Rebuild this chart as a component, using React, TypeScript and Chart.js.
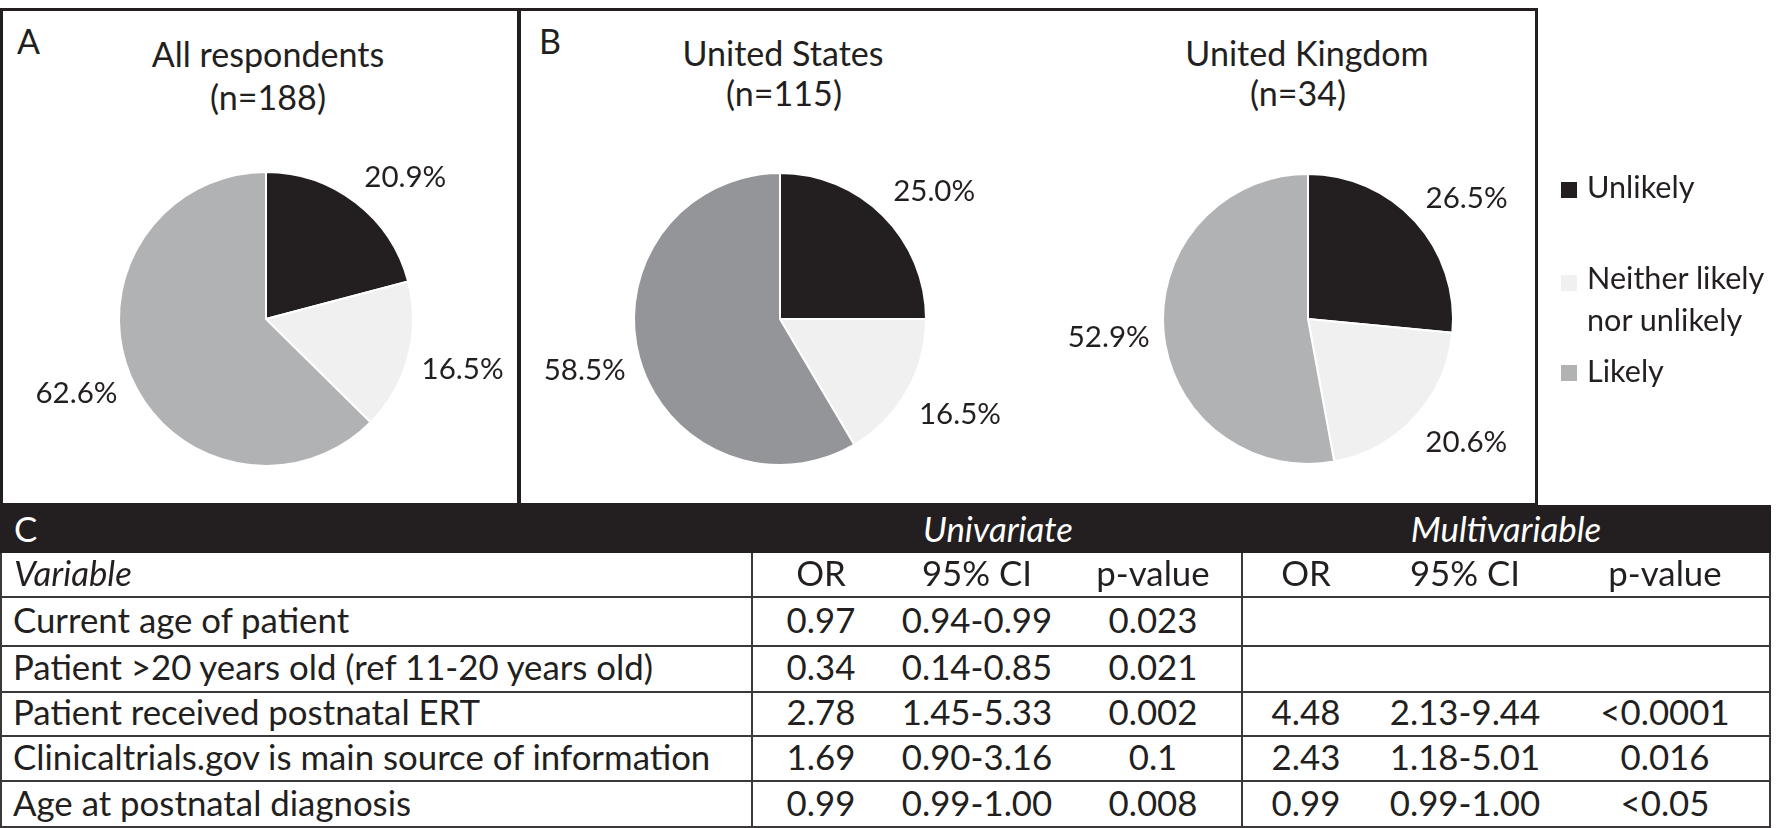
import React, { useEffect, useRef } from "react";
import { Chart, registerables } from "chart.js";

Chart.register(...registerables);

// ---------------- data ----------------
const responseCategories = ["Unlikely", "Neither likely nor unlikely", "Likely"];
const allRespondentsPct = [20.9, 16.5, 62.6];
const unitedStatesPct = [25.0, 16.5, 58.5];
const unitedKingdomPct = [26.5, 20.6, 52.9];

const tableVariables = [
  "Current age of patient",
  "Patient >20 years old (ref 11-20 years old)",
  "Patient received postnatal ERT",
  "Clinicaltrials.gov is main source of information",
  "Age at postnatal diagnosis",
];
const uniOR = ["0.97", "0.34", "2.78", "1.69", "0.99"];
const uniCI = ["0.94-0.99", "0.14-0.85", "1.45-5.33", "0.90-3.16", "0.99-1.00"];
const uniP = ["0.023", "0.021", "0.002", "0.1", "0.008"];
const multiOR = ["", "", "4.48", "2.43", "0.99"];
const multiCI = ["", "", "2.13-9.44", "1.18-5.01", "0.99-1.00"];
const multiP = ["", "", "<0.0001", "0.016", "<0.05"];
const columnHeaders = ["OR", "95% CI", "p-value", "OR", "95% CI", "p-value"];

// ---------------- styles ----------------
const FONT = "Lato, 'Open Sans', sans-serif";
const INK = "#231f20";
const COLORS_DEFAULT = ["#231f20", "#f0f0f0", "#b1b2b4"];
const COLORS_US = ["#231f20", "#f0f0f0", "#939598"];

function fit(text: string, target: number, style = ""): number {
  const c = document.createElement("canvas").getContext("2d")!;
  c.font = `${style} 100px Lato`;
  return (100 * target) / c.measureText(text).width;
}

const TITLE_SIZE = (fit("All respondents", 237) + fit("United Kingdom", 240) + fit("United States", 200)) / 3;
const LABEL_SIZE = fit("20.9%", 82);
const LEGEND_SIZE = fit("Neither likely", 178);
const TABLE_SIZE = fit("Clinicaltrials.gov is main source of information", 699);

// text placed by its alphabetic baseline
function Txt(props: {
  x: number;
  y: number;
  size: number;
  align?: "left" | "center";
  italic?: boolean;
  color?: string;
  children: React.ReactNode;
}) {
  const { x, y, size, align = "left", italic, color = INK, children } = props;
  const lh = size * 1.2;
  return (
    <div
      style={{
        position: "absolute",
        left: x,
        top: y - 0.987 * size,
        fontFamily: FONT,
        fontSize: size,
        lineHeight: `${lh}px`,
        fontStyle: italic ? "italic" : "normal",
        color,
        whiteSpace: "nowrap",
        transform: align === "center" ? "translateX(-50%)" : undefined,
      }}
    >
      {children}
    </div>
  );
}

const clamp = (v: number) => Math.max(-1, Math.min(1, v));

// "outside end" percentage labels: the label box sits just outside the arc at the slice's mid-angle
const pctLabels = {
  id: "pctLabels",
  afterDatasetsDraw(chart: any) {
    const ctx = chart.ctx as CanvasRenderingContext2D;
    const meta = chart.getDatasetMeta(0);
    const data = chart.data.datasets[0].data as number[];
    ctx.save();
    ctx.font = `${LABEL_SIZE}px ${FONT}`;
    ctx.fillStyle = INK;
    ctx.textAlign = "center";
    ctx.textBaseline = "middle";
    meta.data.forEach((arc: any, i: number) => {
      const p = arc.getProps(["x", "y", "startAngle", "endAngle", "outerRadius"], true);
      const mid = (p.startAngle + p.endAngle) / 2;
      const d = p.outerRadius + 14;
      const text = data[i].toFixed(1) + "%";
      const w = ctx.measureText(text).width;
      const h = 30;
      const cx = p.x + Math.cos(mid) * d + (w / 2) * clamp(Math.cos(mid) * 2);
      const cy = p.y + Math.sin(mid) * d + (h / 2) * clamp(Math.sin(mid) * 2);
      ctx.fillText(text, cx, cy + 1);
    });
    ctx.restore();
  },
};

function Pie(props: { values: number[]; colors: string[]; cx: number; cy: number; r: number }) {
  const { values, colors, cx, cy, r } = props;
  const W = 540;
  const H = 470;
  const ref = useRef<HTMLCanvasElement>(null);
  useEffect(() => {
    const half = r + 1;
    const px = W / 2;
    const py = H / 2;
    const chart = new Chart(ref.current!, {
      type: "pie",
      data: {
        labels: responseCategories,
        datasets: [
          {
            data: values,
            backgroundColor: colors,
            borderColor: "#ffffff",
            borderWidth: 2,
            hoverOffset: 0,
          },
        ],
      },
      options: {
        animation: false,
        responsive: false,
        events: [],
        layout: { padding: { left: px - half, right: W - px - half, top: py - half, bottom: H - py - half } },
        plugins: { legend: { display: false }, tooltip: { enabled: false } },
      },
      plugins: [pctLabels],
    } as any);
    return () => chart.destroy();
  }, []);
  return (
    <canvas
      ref={ref}
      width={W}
      height={H}
      style={{ position: "absolute", left: cx - W / 2, top: cy - H / 2, width: W, height: H }}
    />
  );
}

function HLine(props: { x1: number; x2: number; y: number; w?: number; color?: string }) {
  const { x1, x2, y, w = 2, color = "#3a3839" } = props;
  return <div style={{ position: "absolute", left: x1, top: y - w / 2, width: x2 - x1, height: w, background: color }} />;
}
function VLine(props: { x: number; y1: number; y2: number; w?: number; color?: string }) {
  const { x, y1, y2, w = 2, color = "#3a3839" } = props;
  return <div style={{ position: "absolute", left: x - w / 2, top: y1, width: w, height: y2 - y1, background: color }} />;
}

export default function App() {
  // table geometry
  const rowEdges = [553, 597, 646, 692, 736, 781, 828];
  const colCenters = [821, 977, 1153, 1306, 1465, 1665];
  const rowBase = (i: number) => (rowEdges[i] + rowEdges[i + 1]) / 2 - 1 + 0.358 * TABLE_SIZE;
  const dataCols = [uniOR, uniCI, uniP, multiOR, multiCI, multiP];

  const legendItems = [
    { color: COLORS_DEFAULT[0], sq: 190, lines: [[responseCategories[0], 199]] },
    { color: COLORS_DEFAULT[1], sq: 283, lines: [["Neither likely", 290], ["nor unlikely", 332]] },
    { color: COLORS_DEFAULT[2], sq: 373, lines: [[responseCategories[2], 383]] },
  ];

  return (
    <div style={{ position: "absolute", left: 0, top: 0, width: 1776, height: 828, background: "#fff", overflow: "hidden" }}>
      {/* panel boxes */}
      <div style={{ position: "absolute", left: 0, top: 8, width: 521, height: 498, border: `3px solid ${INK}`, boxSizing: "border-box" }} />
      <div style={{ position: "absolute", left: 517, top: 8, width: 1021, height: 498, border: `3px solid ${INK}`, boxSizing: "border-box" }} />

      <Txt x={17} y={55} size={TITLE_SIZE}>A</Txt>
      <Txt x={539} y={55} size={TITLE_SIZE}>B</Txt>

      <Txt x={268} y={68} size={TITLE_SIZE} align="center">All respondents</Txt>
      <Txt x={268} y={111} size={TITLE_SIZE} align="center">(n=188)</Txt>
      <Txt x={783} y={67} size={TITLE_SIZE} align="center">United States</Txt>
      <Txt x={784} y={107} size={TITLE_SIZE} align="center">(n=115)</Txt>
      <Txt x={1307} y={67} size={TITLE_SIZE} align="center">United Kingdom</Txt>
      <Txt x={1298} y={107} size={TITLE_SIZE} align="center">(n=34)</Txt>

      <Pie values={allRespondentsPct} colors={COLORS_DEFAULT} cx={266} cy={319} r={147} />
      <Pie values={unitedStatesPct} colors={COLORS_US} cx={780} cy={319} r={146} />
      <Pie values={unitedKingdomPct} colors={COLORS_DEFAULT} cx={1308} cy={319} r={145} />

      {/* legend */}
      {legendItems.map((it, i) => (
        <React.Fragment key={i}>
          <div style={{ position: "absolute", left: 1561, top: it.sq - 8, width: 16, height: 16, background: it.color }} />
          {it.lines.map(([t, b], j) => (
            <Txt key={j} x={1587} y={b as number} size={LEGEND_SIZE}>{t}</Txt>
          ))}
        </React.Fragment>
      ))}

      {/* table */}
      <div style={{ position: "absolute", left: 0, top: 505, width: 1771, height: 48, background: INK }} />
      <Txt x={14} y={542} size={TABLE_SIZE} color="#ffffff">C</Txt>
      <Txt x={998} y={542} size={TABLE_SIZE} color="#ffffff" italic align="center">Univariate</Txt>
      <Txt x={1506} y={542} size={TABLE_SIZE} color="#ffffff" italic align="center">Multivariable</Txt>

      {rowEdges.slice(1, -1).map((y, i) => (
        <HLine key={i} x1={0} x2={1771} y={y} />
      ))}
      <HLine x1={0} x2={1771} y={827} />
      <VLine x={1} y1={553} y2={828} />
      <VLine x={752} y1={553} y2={828} />
      <VLine x={1242} y1={553} y2={828} />
      <VLine x={1769.5} y1={553} y2={828} />

      <Txt x={14} y={rowBase(0)} size={TABLE_SIZE} italic>Variable</Txt>
      {columnHeaders.map((h, c) => (
        <Txt key={c} x={colCenters[c]} y={rowBase(0)} size={TABLE_SIZE} align="center">{h}</Txt>
      ))}
      {tableVariables.map((v, r) => (
        <React.Fragment key={r}>
          <Txt x={13} y={rowBase(r + 1)} size={TABLE_SIZE}>{v}</Txt>
          {dataCols.map((col, c) =>
            col[r] ? (
              <Txt key={c} x={colCenters[c]} y={rowBase(r + 1)} size={TABLE_SIZE} align="center">{col[r]}</Txt>
            ) : null
          )}
        </React.Fragment>
      ))}
    </div>
  );
}
